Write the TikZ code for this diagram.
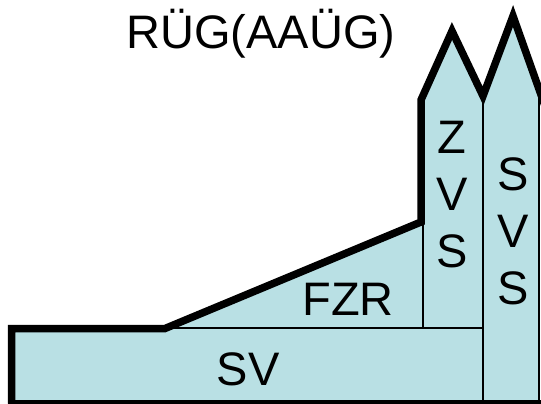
\documentclass[tikz,border=0pt]{standalone}
\usepackage{fontspec}
\setmainfont{Liberation Sans}
\definecolor{fillblue}{RGB}{185,224,228}
\begin{document}
\begin{tikzpicture}[x=1pt,y=-1pt,
  lbl/.style={inner sep=0pt,anchor=base,font=\fontsize{47}{57}\selectfont},
  thickline/.style={line width=7.5pt,line join=miter,miter limit=10},
  thinline/.style={line width=1.6pt}]
\useasboundingbox (0,0) rectangle (541,404);
\begin{scope}
\clip (0,0) rectangle (541,404);
% fill
\fill[fillblue] (11.5,403) -- (11.5,328) -- (165,328) -- (421,222) -- (421,100)
  -- (452,31) -- (483,96) -- (513,16) -- (539,86) -- (539,403) -- cycle;
% thin internal lines
\draw[thinline] (165,328) -- (483,328);
\draw[thinline] (422.7,222) -- (422.7,328);
\draw[thinline] (483,96) -- (483,403);
\draw[thinline] (539,86) -- (539,403);
% thick outline
\draw[thickline] (11.5,403.5) -- (11.5,328.5) -- (165,328.5) -- (421,222) -- (421,100)
  -- (452,31) -- (483,96) -- (513,16) -- (545,106);
\draw[thickline] (8,403.5) -- (545,403.5);
\end{scope}
% labels
\node[lbl] (title) at (261,49) {RÜG(AAÜG)};
\node[lbl] (fzr) at (348,315) {FZR};
\node[lbl] (sv) at (248,385) {SV};
\node[lbl] (z1) at (452,153) {Z};
\node[lbl] (z2) at (452,210) {V};
\node[lbl] (z3) at (452,267) {S};
\node[lbl] (s1) at (513,190) {S};
\node[lbl] (s2) at (513,247) {V};
\node[lbl] (s3) at (513,304) {S};
\end{tikzpicture}
\end{document}
